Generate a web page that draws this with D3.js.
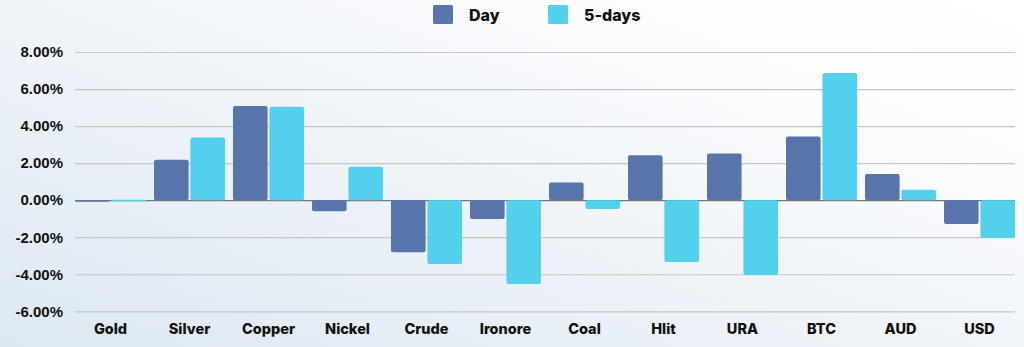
<!DOCTYPE html>
<html><head><meta charset="utf-8">
<script src="https://cdn.jsdelivr.net/npm/d3@7"></script>
<style>
html,body{margin:0;padding:0;}
body{width:1024px;height:347px;overflow:hidden;background:linear-gradient(20deg,#dde8f2 0%,#eef3f8 45%,#fbfcfe 75%,#ffffff 100%);}
svg{display:block;font-family:Inter,"Open Sans",sans-serif;}
</style></head><body>
<svg id="c" width="1024" height="347"></svg>
<script>
const categories = ["Gold","Silver","Copper","Nickel","Crude","Ironore","Coal","Hlit","URA","BTC","AUD","USD"];
const seriesNames = ["Day","5-days"];
const dayValues = [0.0, 2.18, 5.08, -0.6, -2.81, -1.01, 0.95, 2.43, 2.52, 3.44, 1.41, -1.28];
const fiveDayValues = [0.02, 3.38, 5.04, 1.8, -3.44, -4.52, -0.47, -3.34, -4.04, 6.86, 0.56, -2.04];
const yTicks = [8, 6, 4, 2, 0, -2, -4, -6];
const colors = {"Day":"#5775ab","5-days":"#53d0eb"};

const svg = d3.select("#c");
const x0 = d3.scaleBand().domain(categories).range([75, 75 + 79*12]).padding(0);
const x1 = d3.scaleBand().domain(seriesNames).range([0, 71]).paddingInner(0.05);
const y = d3.scaleLinear().domain([-6, 8]).range([311.3, 52]);

const yAxis = d3.axisLeft(y).tickValues(yTicks).tickSize(0).tickPadding(12)
  .tickFormat(d => d.toFixed(2) + "%");
const gy = svg.append("g").attr("transform","translate(75,0)").call(yAxis);
gy.select(".domain").remove();
gy.selectAll("text").attr("font-size",15).attr("font-weight",800).attr("fill","#111");
svg.append("g").selectAll("line").data(yTicks).join("line")
  .attr("x1",75).attr("x2",1015)
  .attr("y1",d=>y(d)+0.5).attr("y2",d=>y(d)+0.5)
  .attr("stroke",d=> d===0 ? "#777" : "#c4c6c9").attr("stroke-width",d=>d===0?1.3:1.2);

const data = categories.map((c,i)=>({cat:c, vals:[{s:"Day",v:dayValues[i]},{s:"5-days",v:fiveDayValues[i]}]}));
const g = svg.append("g").selectAll("g").data(data).join("g")
  .attr("transform",d=>`translate(${x0(d.cat)},0)`);
g.selectAll("rect").data(d=>d.vals).join("rect")
  .attr("x",d=>x1(d.s)).attr("width",x1.bandwidth())
  .attr("y",d=>Math.min(y(d.v),y(0)))
  .attr("height",d=>Math.max(Math.abs(y(d.v)-y(0)),1.5))
  .attr("rx",2).attr("fill",d=>colors[d.s]);

svg.append("g").selectAll("text").data(categories).join("text")
  .attr("x",d=>x0(d)+35.5).attr("y",334)
  .attr("text-anchor","middle").attr("font-size",14.5).attr("font-weight",800).attr("fill","#111")
  .text(d=>d);

const legend = [{s:"Day",x:433,tx:469},{s:"5-days",x:548,tx:584}];
const lg = svg.append("g");
lg.selectAll("rect").data(legend).join("rect")
  .attr("x",d=>d.x).attr("y",5).attr("width",20).attr("height",19).attr("rx",1.5)
  .attr("fill",d=>colors[d.s]);
lg.selectAll("text").data(legend).join("text")
  .attr("x",d=>d.tx).attr("y",20.5).attr("font-size",16).attr("font-weight",800).attr("fill","#111")
  .text(d=>d.s);
</script>
</body></html>
